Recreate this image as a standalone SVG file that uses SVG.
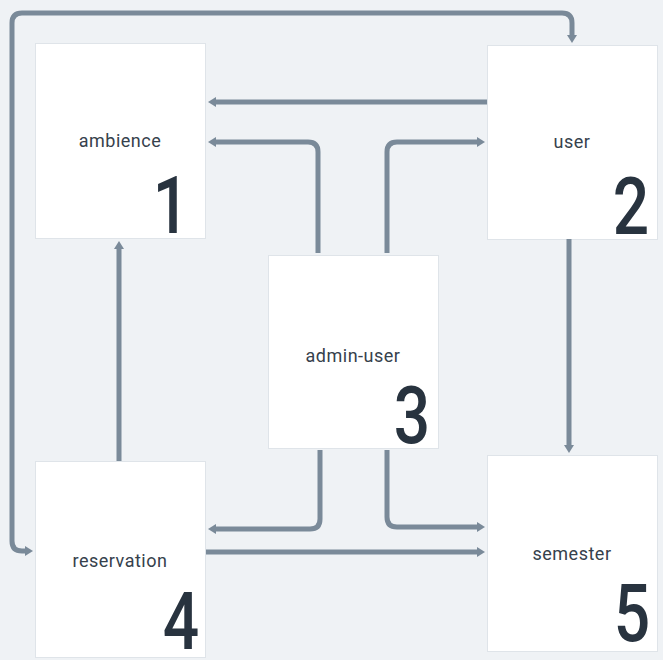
<svg xmlns="http://www.w3.org/2000/svg" width="663" height="660" viewBox="0 0 663 660">
<style>
.box{fill:#ffffff;stroke:#dfe4e9;stroke-width:1}
.lbl{font-family:Roboto,"Liberation Sans",sans-serif;font-size:18px;letter-spacing:0.5px;fill:#36414c;text-anchor:middle}
.num{font-family:Roboto,"Liberation Sans",sans-serif;font-size:80px;font-weight:500;fill:#28333f;text-anchor:end}
.c{fill:none;stroke:#7a8a99;stroke-width:5;marker-end:url(#ah)}
</style>
<defs>
<marker id="ah" viewBox="0 0 8 10" markerWidth="8" markerHeight="10" refX="1" refY="5" orient="auto-start-reverse" markerUnits="userSpaceOnUse">
<path d="M0,0 L8,5 L0,10 z" fill="#7a8a99"/>
</marker>
</defs>
<rect width="663" height="660" fill="#eff2f5"/>
<g id="n1"><rect class="box" x="35.5" y="43.5" width="170" height="195"/><text class="lbl" x="120" y="147">ambience</text><text class="num" transform="translate(189,233) scale(0.8,1)">1</text></g>
<g id="n2"><rect class="box" x="487.5" y="45.5" width="170" height="194"/><text class="lbl" x="572" y="148">user</text><text class="num" transform="translate(649,234) scale(0.8,1)">2</text></g>
<g id="n3"><rect class="box" x="268.5" y="255.5" width="170" height="193"/><text class="lbl" x="353" y="362">admin-user</text><text class="num" transform="translate(430,443) scale(0.8,1)">3</text></g>
<g id="n4"><rect class="box" x="35.5" y="461.5" width="170" height="196"/><text class="lbl" x="120" y="567">reservation</text><text class="num" transform="translate(199,649) scale(0.8,1)">4</text></g>
<g id="n5"><rect class="box" x="487.5" y="455.5" width="170" height="196"/><text class="lbl" x="572" y="560">semester</text><text class="num" transform="translate(650,641) scale(0.8,1)">5</text></g>
<g id="connectors">
<path class="c" style="marker-start:url(#ah)" d="M26,551 L22,551 Q12,551 12,541 L12,23 Q12,13 22,13 L562,13 Q572,13 572,23 L572,36"/>
<path class="c" d="M487,102 L215,102"/>
<path class="c" d="M318,253 L318,152 Q318,142 308,142 L215,142"/>
<path class="c" d="M387,253 L387,152 Q387,142 397,142 L478,142"/>
<path class="c" d="M569,239 L569,446"/>
<path class="c" d="M119,461 L119,248"/>
<path class="c" d="M320,450 L320,519 Q320,529 310,529 L215,529"/>
<path class="c" d="M387,450 L387,517 Q387,527 397,527 L478,527"/>
<path class="c" d="M206,552 L478,552"/>
</g>
</svg>
